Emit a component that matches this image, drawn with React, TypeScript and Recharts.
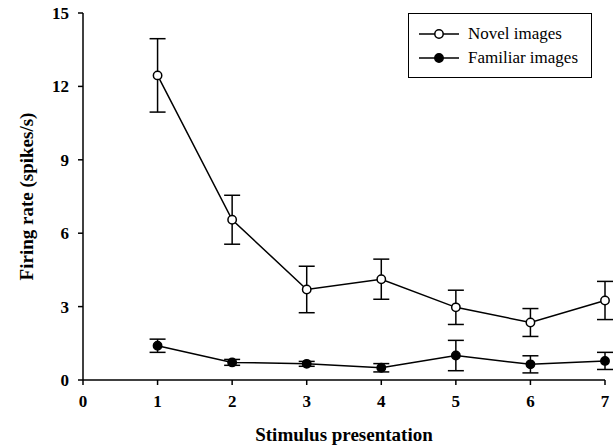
import { LineChart, Line, XAxis, YAxis, ErrorBar, Label } from 'recharts';

const presentations = [1, 2, 3, 4, 5, 6, 7];
const novel = [12.45, 6.55, 3.7, 4.12, 2.97, 2.35, 3.25];
const novelErr = [1.5, 1.0, 0.95, 0.82, 0.7, 0.57, 0.78];
const familiar = [1.4, 0.72, 0.66, 0.5, 1.0, 0.64, 0.78];
const familiarErr = [0.27, 0.12, 0.1, 0.17, 0.62, 0.35, 0.35];
const xTicks = [0, 1, 2, 3, 4, 5, 6, 7];
const yTicks = [0, 3, 6, 9, 12, 15];
const seriesNames = ['Novel images', 'Familiar images'];

const data = presentations.map((x, i) => ({
  x,
  novel: novel[i],
  novelErr: novelErr[i],
  familiar: familiar[i],
  familiarErr: familiarErr[i],
}));

const font = "'Liberation Serif', 'Times New Roman', serif";

function LegendBox() {
  const row = (filled: boolean, text: string) => (
    <div style={{ display: 'flex', alignItems: 'center', height: 24 }}>
      <svg width={40} height={12} style={{ marginRight: 9 }}>
        <line x1={0} y1={6} x2={40} y2={6} stroke="#000" strokeWidth={1.5} />
        <circle cx={20} cy={6} r={4.2} fill={filled ? '#000' : '#fff'} stroke="#000" strokeWidth={1.5} />
      </svg>
      <span style={{ fontFamily: font, fontSize: 17, color: '#000', lineHeight: '20px' }}>{text}</span>
    </div>
  );
  return (
    <div
      style={{
        position: 'absolute',
        left: 408,
        top: 13,
        border: '1.5px solid #000',
        width: 184,
        height: 65,
        boxSizing: 'border-box',
        padding: '8px 0 0 10px',
        background: '#fff',
      }}
    >
      {row(false, seriesNames[0])}
      {row(true, seriesNames[1])}
    </div>
  );
}

export default function App() {
  return (
    <div style={{ position: 'absolute', left: 0, top: 0, width: 616, height: 445, background: '#fff' }}>
      <LineChart width={616} height={445} data={data} margin={{ top: 13, right: 11, left: 0, bottom: 0 }}>
        <XAxis
          dataKey="x"
          type="number"
          domain={[0, 7]}
          ticks={xTicks}
          height={65}
          axisLine={{ stroke: '#000', strokeWidth: 1.5 }}
          tickLine={{ stroke: '#000', strokeWidth: 1.5 }}
          tickSize={5}
          tickMargin={10}
          tick={{ fill: '#000', fontFamily: font, fontSize: 17, fontWeight: 'bold' }}
        >
          <Label
            value="Stimulus presentation"
            position="insideBottom"
            offset={4}
            style={{ fill: '#000', fontFamily: font, fontSize: 19, fontWeight: 'bold' }}
          />
        </XAxis>
        <YAxis
          type="number"
          domain={[0, 15]}
          ticks={yTicks}
          width={83}
          axisLine={{ stroke: '#000', strokeWidth: 1.5 }}
          tickLine={{ stroke: '#000', strokeWidth: 1.5 }}
          tickSize={5}
          tickMargin={9}
          tick={{ fill: '#000', fontFamily: font, fontSize: 17, fontWeight: 'bold' }}
        >
          <Label
            value="Firing rate (spikes/s)"
            angle={-90}
            position="center"
            dx={-15}
            style={{ fill: '#000', fontFamily: font, fontSize: 19, fontWeight: 'bold', textAnchor: 'middle' }}
          />
        </YAxis>
        <Line
          dataKey="novel"
          name={seriesNames[0]}
          stroke="#000"
          strokeWidth={1.5}
          isAnimationActive={false}
          dot={{ r: 4.2, fill: '#fff', stroke: '#000', strokeWidth: 1.5 }}
          activeDot={false}
        >
          <ErrorBar dataKey="novelErr" direction="y" width={8} stroke="#000" strokeWidth={1.5} />
        </Line>
        <Line
          dataKey="familiar"
          name={seriesNames[1]}
          stroke="#000"
          strokeWidth={1.5}
          isAnimationActive={false}
          dot={{ r: 4.2, fill: '#000', stroke: '#000', strokeWidth: 1.5 }}
          activeDot={false}
        >
          <ErrorBar dataKey="familiarErr" direction="y" width={8} stroke="#000" strokeWidth={1.5} />
        </Line>
      </LineChart>
      <LegendBox />
    </div>
  );
}
